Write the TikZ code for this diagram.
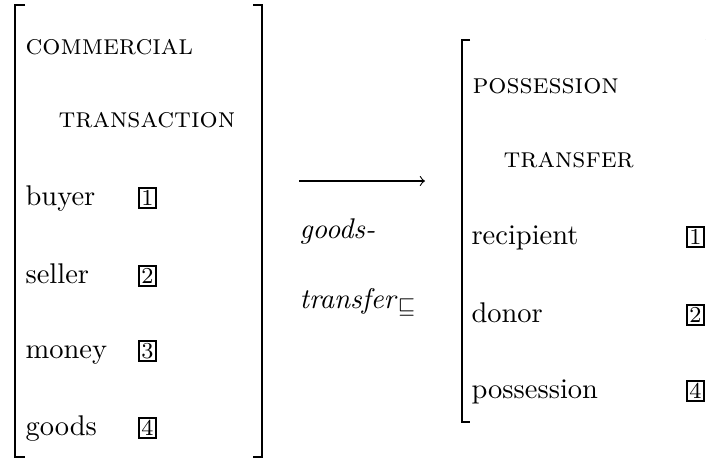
\documentclass[tikz,border=0pt]{standalone}
\usetikzlibrary{arrows}
\tikzset{%
  feat/.style  = {anchor=base west, inner sep=0pt, font=\normalsize},%
  sort/.style  = {feat, font=\normalsize\scshape},%
  tag/.style   = {draw, line width=0.7pt, inner sep=0.8pt, font=\footnotesize},%
  brack/.style = {line width=0.8pt}%
}
\begin{document}
\begin{tikzpicture}[x=0.351pt,y=-0.351pt]
	\useasboundingbox (0,0) rectangle (706,458);
	% commercial transaction
	\draw[brack] (25,5) -- (15,5) -- (15,457) -- (25,457);%
	\draw[brack] (253,5) -- (262,5) -- (262,457) -- (253,457);%
	\node[sort] (ct1) at (25,54) {commercial};%
	\node[sort] (ct2) at (58,127) {transaction};%
	\node[feat] (buyer)  at (25,205) {buyer};%
	\node[feat] (seller) at (25,283) {seller};%
	\node[feat] (money)  at (25,358) {money};%
	\node[feat] (goods)  at (25,435) {goods};%
	\node[tag] (t1) at (147.5,198) {1};%
	\node[tag] (t2) at (147.5,276) {2};%
	\node[tag] (t3) at (147.5,351) {3};%
	\node[tag] (t4) at (147.5,428) {4};%
	% the mapping
	\coordinate (from) at (299,181);%
	\coordinate (to)   at (425,181);%
	\draw[->,line width=0.4pt] (from) -- (to);%
	\node[feat] (gt1) at (299,238) {\textit{goods-}};%
	\node[feat] (gt2) at (299,308) {\textit{transfer}$_{\sqsubseteq}$};%
	% possession transfer
	\draw[brack] (470,40) -- (462,40) -- (462,422) -- (470,422);%
	\draw[brack] (705.5,40) -- (713,40) -- (713,422) -- (705.5,422);%
	\node[sort] (pt1) at (472,93) {possession};%
	\node[sort] (pt2) at (503,167) {transfer};%
	\node[feat] (recip) at (471,244) {recipient};%
	\node[feat] (donor) at (471,322) {donor};%
	\node[feat] (poss)  at (471,398) {possession};%
	\node[tag] (r1) at (695.5,237) {1};%
	\node[tag] (r2) at (695.5,315) {2};%
	\node[tag] (r4) at (695.5,391) {4};%
\end{tikzpicture}
\end{document}
